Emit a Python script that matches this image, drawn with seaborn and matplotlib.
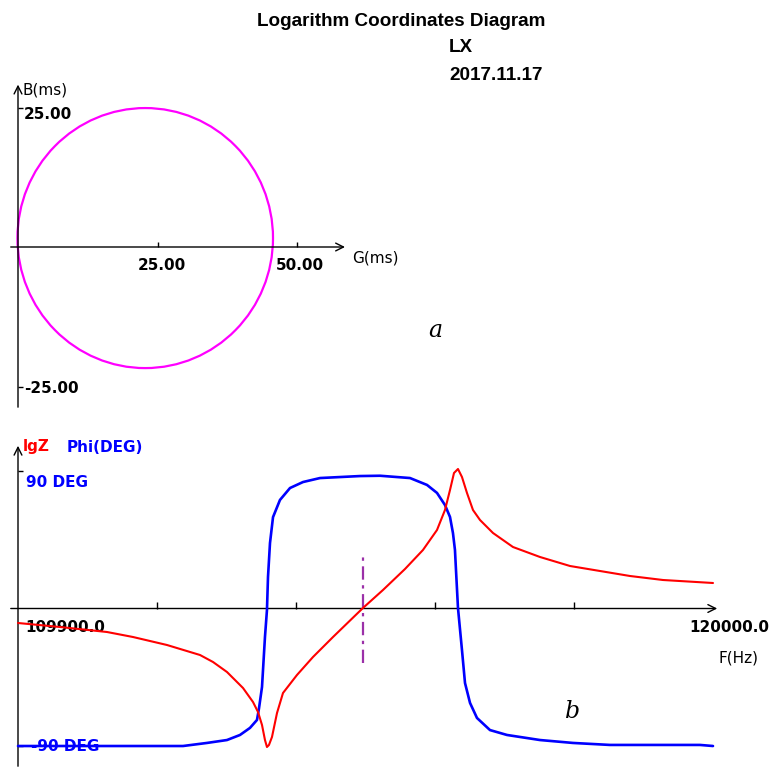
import matplotlib
matplotlib.use("Agg")
import matplotlib.pyplot as plt
import seaborn as sns
import pandas as pd
from matplotlib.patches import Ellipse

# ---------------- data ----------------
# admittance circle (G, B in mS)
circle_center_g = 22.8
circle_center_b = 1.6
circle_radius_g = 22.9
circle_radius_b = 23.3
g_ticks = [25, 50]
g_tick_labels = ["25.00", "50.00"]
b_ticks = [25, -25]
b_tick_labels = ["25.00", "-25.00"]

# phase curve (deg)
freq_phi = [109900, 112298, 112646, 112937, 113126, 113271, 113373, 113402, 113446,
            113489, 113518, 113533, 113562, 113606, 113707, 113853, 114042, 114289,
            114870, 115161, 115597, 115844, 115989, 116105, 116178, 116221, 116250,
            116265, 116294, 116352, 116396, 116469, 116570, 116759, 117006, 117486,
            117965, 118503, 119811, 120000]
phi_deg = [-89.7, -89.7, -87.7, -85.8, -82.5, -77.9, -72.7, -65.2, -51.2,
           -18.6, -1.0, 20.5, 42.7, 59.6, 70.8, 78.6, 82.5, 85.1,
           86.4, 86.6, 85.1, 80.6, 75.4, 67.5, 59.7, 49.2, 38.2,
           25.1, 0.3, -27.1, -48.6, -61.6, -71.4, -79.3, -82.5, -85.8,
           -87.7, -89.0, -89.0, -89.7]

# lgZ curve
freq_lgz = [109900, 110510, 111193, 111571, 112065, 112545, 112734, 112937, 113170,
            113315, 113388, 113446, 113489, 113518, 113547, 113591, 113664, 113751,
            113954, 114187, 114478, 114913, 115204, 115524, 115785, 115989, 116105,
            116178, 116236, 116294, 116352, 116425, 116512, 116614, 116803, 117093,
            117486, 117922, 118358, 118794, 119273, 120000]
lgz = [2.855, 2.815, 2.765, 2.715, 2.635, 2.535, 2.465, 2.365, 2.205,
       2.065, 1.965, 1.835, 1.685, 1.615, 1.635, 1.715, 1.955, 2.155,
       2.335, 2.515, 2.715, 3.005, 3.185, 3.395, 3.585, 3.785, 3.985,
       4.185, 4.355, 4.395, 4.315, 4.155, 3.985, 3.885, 3.755, 3.615,
       3.515, 3.425, 3.375, 3.325, 3.285, 3.255]

f_ticks = [111920, 113940, 115960, 117980]
f_start, f_end = 109900, 120000
f_start_label, f_end_label = "109900.0", "120000.0"
phi_ticks = [90, -90]
phi_tick_labels = ["90 DEG", "-90 DEG"]
marker_freq = 114913

title = "Logarithm Coordinates Diagram"
author = "LX"
date = "2017.11.17"

# ---------------- figure ----------------
sns.set_theme(style="white")
plt.rcParams["font.family"] = ["DejaVu Sans"]
plt.rcParams["text.color"] = "black"
W = H = 769
fig = plt.figure(figsize=(7.69, 7.69), dpi=100)
fig.patch.set_facecolor("white")


def fx(px):
    return px / W


def fy(py):
    return 1 - py / H


BLUE = "#0000ff"
RED = "#ff0000"
MAG = "#ff00ff"
TXT = dict(fontsize=11, fontweight="bold")
HEAD = dict(fontsize=13.6, fontweight="bold", family=["Liberation Sans", "DejaVu Sans"])

# ---- top panel: admittance circle ----
s = 5.58  # px per mS
x0t, y0t = 18, 247
axt = fig.add_axes([0, fy(415), fx(400), 340 / H])
axt.set_xlim((0 - x0t) / s, (400 - x0t) / s)
axt.set_ylim((y0t - 415) / s, (y0t - 75) / s)
axt.axis("off")
axt.add_patch(Ellipse((circle_center_g, circle_center_b), 2 * circle_radius_g,
                      2 * circle_radius_b, fill=False, edgecolor=MAG, lw=1.6))
arr = dict(arrowstyle="->", color="black", lw=1.0, mutation_scale=14)
axt.annotate("", xy=(59.1, 0), xytext=(-1.8, 0), arrowprops=arr)
axt.annotate("", xy=(0, 29.6), xytext=(0, -29.2), arrowprops=arr)
axt.vlines(g_ticks, 0, 0.9, color="black", lw=1)
axt.hlines(b_ticks, 0, 0.9, color="black", lw=1)
for g, lab, dx in zip(g_ticks, g_tick_labels, [4, 3]):
    axt.annotate(lab, (g, 0), xytext=(dx, -18), textcoords="offset pixels",
                 ha="center", va="center", **TXT)
for b, lab, dy in zip(b_ticks, b_tick_labels, [-7, -2]):
    axt.annotate(lab, (0, b), xytext=(6, dy), textcoords="offset pixels",
                 ha="left", va="center", **TXT)
fig.text(fx(22), fy(90), "B(ms)", ha="left", va="center", fontsize=11)
fig.text(fx(352), fy(258), "G(ms)", ha="left", va="center", fontsize=11)

# ---- bottom panel: frequency response ----
x0, y0 = 18, 608.5
dpx = 1.533  # px per degree
fpp = (f_end - f_start) / 695.0  # Hz per px
axb = fig.add_axes([0, 0, 1, 339 / H])
axb.set_xlim(f_start - x0 * fpp, f_start + (W - x0) * fpp)
axb.set_ylim((y0 - 769) / dpx, (y0 - 430) / dpx)
axb.axis("off")
axr = axb.twinx()
axr.set_ylim(3 + (y0 - 769) / 100, 3 + (y0 - 430) / 100)
axr.axis("off")

# axes lines
axb.annotate("", xy=(f_start + 702 * fpp, 0), xytext=(f_start - 10 * fpp, 0), arrowprops=arr)
axb.annotate("", xy=(f_start, (y0 - 443) / dpx), xytext=(f_start, (y0 - 769) / dpx),
             arrowprops=arr)
axb.vlines(f_ticks, 0, 4, color="black", lw=1)
axb.hlines(phi_ticks, f_start, f_start + 5 * fpp, color="black", lw=1)

# labels drawn beneath the curves
axb.annotate(f_start_label, (f_start, 0), xytext=(7, -19), textcoords="offset pixels",
             ha="left", va="center", zorder=1, **TXT)
axb.annotate(f_end_label, (f_end, 0), xytext=(56, -19), textcoords="offset pixels",
             ha="right", va="center", zorder=1, **TXT)
axb.annotate(phi_tick_labels[0], (f_start, phi_ticks[0]), xytext=(8, -12),
             textcoords="offset pixels", ha="left", va="center", color=BLUE, zorder=1, **TXT)
axb.annotate(phi_tick_labels[1], (f_start, phi_ticks[1]), xytext=(13, 0),
             textcoords="offset pixels", ha="left", va="center", color=BLUE, zorder=1, **TXT)

# marker line
axb.vlines([marker_freq], -35.6, 36.2, color="#9b30a8", lw=1.6,
           linestyles=[(0, (6, 2.5, 1.5, 2.5))])

df_phi = pd.DataFrame({"f": freq_phi, "phi": phi_deg})
df_z = pd.DataFrame({"f": freq_lgz, "lgz": lgz})
sns.lineplot(data=df_z, x="f", y="lgz", ax=axr, color=RED, lw=1.5, zorder=3)
sns.lineplot(data=df_phi, x="f", y="phi", ax=axb, color=BLUE, lw=1.9, zorder=3)
axr.axis("off")

fig.text(fx(23), fy(447), "lgZ", ha="left", va="center", color=RED, **TXT)
fig.text(fx(67), fy(447), "Phi(DEG)", ha="left", va="center", color=BLUE, **TXT)
fig.text(fx(718), fy(658), "F(Hz)", ha="left", va="center", fontsize=11)

# ---- header & panel letters ----
fig.text(fx(401), fy(22), title, ha="center", va="center", **HEAD)
fig.text(fx(449), fy(48), author, ha="left", va="center", **HEAD)
fig.text(fx(449), fy(75), date, ha="left", va="center", **HEAD)
fig.text(fx(435), fy(330), "a", ha="center", va="center", fontsize=17,
         family="DejaVu Serif", style="italic")
fig.text(fx(573), fy(712), "b", ha="center", va="center", fontsize=17,
         family="DejaVu Serif", style="italic")

fig.savefig("out.png", dpi=100, facecolor="white")
